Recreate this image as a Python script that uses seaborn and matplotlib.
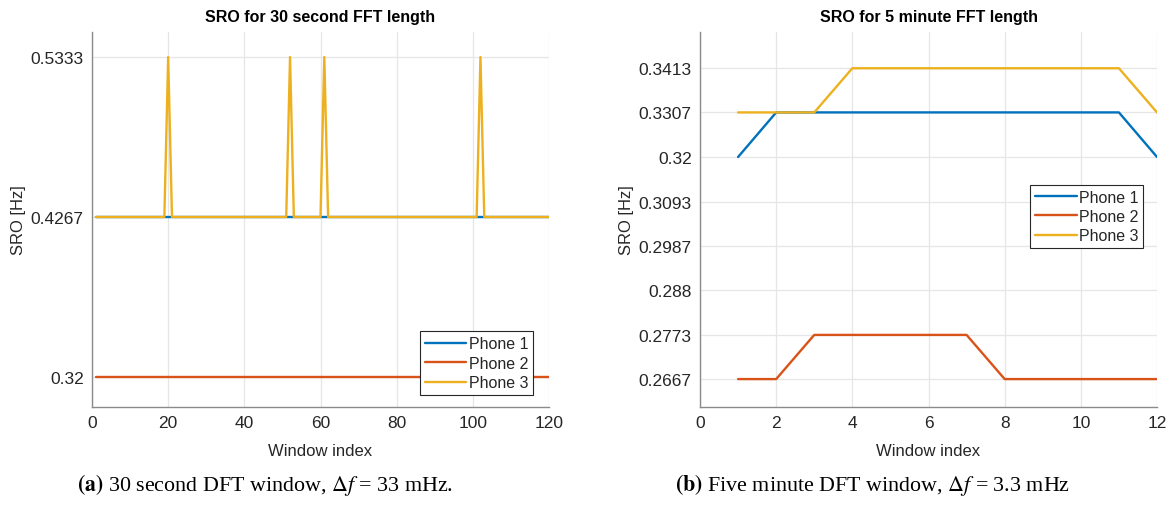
import numpy as np
import pandas as pd
import matplotlib
matplotlib.use("Agg")
import matplotlib.pyplot as plt
import seaborn as sns

# ---- data -------------------------------------------------------------
phones = ["Phone 1", "Phone 2", "Phone 3"]
colors = ["#0072BD", "#D95319", "#EDB120"]

# 30 second FFT: 120 windows
win_a = list(range(1, 121))
base_a = 0.32 * 4 / 3          # 0.4267 Hz
peak_a = 0.32 * 5 / 3          # 0.5333 Hz
peak_windows_a = [20, 52, 61, 102]
phone1_a = [base_a] * 120
phone2_a = [0.32] * 120
phone3_a = [peak_a if w in peak_windows_a else base_a for w in win_a]
yticks_a = [0.32, 0.32 * 4 / 3, 0.32 * 5 / 3]
yticklabels_a = ["0.32", "0.4267", "0.5333"]

# 5 minute FFT: 12 windows
win_b = list(range(1, 13))
phone1_b = [0.3200, 0.3307, 0.3307, 0.3307, 0.3307, 0.3307,
            0.3307, 0.3307, 0.3307, 0.3307, 0.3307, 0.3200]
phone2_b = [0.2667, 0.2667, 0.2773, 0.2773, 0.2773, 0.2773,
            0.2773, 0.2667, 0.2667, 0.2667, 0.2667, 0.2667]
phone3_b = [0.3307, 0.3307, 0.3307, 0.3413, 0.3413, 0.3413,
            0.3413, 0.3413, 0.3413, 0.3413, 0.3413, 0.3307]
yticks_b = [0.2667, 0.2773, 0.2880, 0.2987, 0.3093, 0.3200, 0.3307, 0.3413]
yticklabels_b = ["0.2667", "0.2773", "0.288", "0.2987", "0.3093", "0.32",
                 "0.3307", "0.3413"]


def to_frame(x, series):
    rows = []
    for name, vals in zip(phones, series):
        for xi, v in zip(x, vals):
            rows.append((xi, v, name))
    return pd.DataFrame(rows, columns=["Window index", "SRO", "Phone"])


df_a = to_frame(win_a, [phone1_a, phone2_a, phone3_a])
df_b = to_frame(win_b, [phone1_b, phone2_b, phone3_b])

# ---- style ------------------------------------------------------------
sns.set_theme(style="whitegrid")
plt.rcParams["font.family"] = ["Liberation Sans", "DejaVu Sans"]
plt.rcParams["mathtext.fontset"] = "stix"

text_col = "#262626"
spine_col = "#8a8a8a"
grid_col = "#e6e6e6"

fig = plt.figure(figsize=(11.75, 5.06), dpi=100)
ax_a = fig.add_axes([92 / 1175, 1 - 408 / 506, 457 / 1175, 375 / 506])
ax_b = fig.add_axes([700 / 1175, 1 - 408 / 506, 457 / 1175, 375 / 506])

palette = dict(zip(phones, colors))

panels = [
    (ax_a, df_a, "SRO for 30 second FFT length", (0, 120),
     [0, 20, 40, 60, 80, 100, 120], (0.30, 0.55), yticks_a, yticklabels_a,
     "lower right", (0.965, 0.032)),
    (ax_b, df_b, "SRO for 5 minute FFT length", (0, 12),
     [0, 2, 4, 6, 8, 10, 12], (0.26, 0.35), yticks_b, yticklabels_b,
     "center right", (0.97, 0.508)),
]

for ax, df, title, xlim, xticks, ylim, yt, ytl, loc, anchor in panels:
    sns.lineplot(data=df, x="Window index", y="SRO", hue="Phone",
                 hue_order=phones, palette=palette, linewidth=1.7,
                 ax=ax, legend=True)
    ax.set_facecolor("white")
    ax.set_xlim(*xlim)
    ax.set_ylim(*ylim)
    ax.set_xticks(xticks)
    ax.set_yticks(yt)
    ax.set_yticklabels(ytl)
    ax.grid(True, color=grid_col, linewidth=0.9)
    for s in ["top", "right"]:
        ax.spines[s].set_visible(False)
    for s in ["left", "bottom"]:
        ax.spines[s].set_visible(True)
        ax.spines[s].set_color(spine_col)
        ax.spines[s].set_linewidth(1.0)
    ax.tick_params(axis="both", direction="in", length=4, width=0.8,
                   color=spine_col, labelsize=12.5, labelcolor=text_col,
                   pad=6)
    ax.set_title(title, fontsize=11.5, fontweight="bold", color="black",
                 pad=8)
    ax.set_xlabel("Window index", fontsize=12, color=text_col, labelpad=9)
    ax.set_ylabel("SRO [Hz]", fontsize=12, color=text_col, labelpad=3)

    leg = ax.legend(loc=loc, bbox_to_anchor=anchor,
                    fontsize=11.5, frameon=True, fancybox=False,
                    framealpha=1, edgecolor="#262626", handlelength=2.6,
                    handletextpad=0.15, borderpad=0.3, labelspacing=0.28,
                    borderaxespad=0.0)
    leg.get_frame().set_linewidth(0.8)
    for t in leg.get_texts():
        t.set_color(text_col)

# ---- sub-figure captions ---------------------------------------------
cap_kw = dict(fontsize=15.8, family="Liberation Serif", color="black",
              va="center")
fig.text(265 / 1175, 1 - 485 / 506,
         r"$\mathbf{(a)}$ 30 second DFT window, $\Delta f$ = 33 mHz.",
         ha="center", **cap_kw)
fig.text(873 / 1175, 1 - 485 / 506,
         r"$\mathbf{(b)}$ Five minute DFT window, $\Delta f$ = 3.3 mHz",
         ha="center", **cap_kw)

fig.savefig("out.png", dpi=100, facecolor="white")
